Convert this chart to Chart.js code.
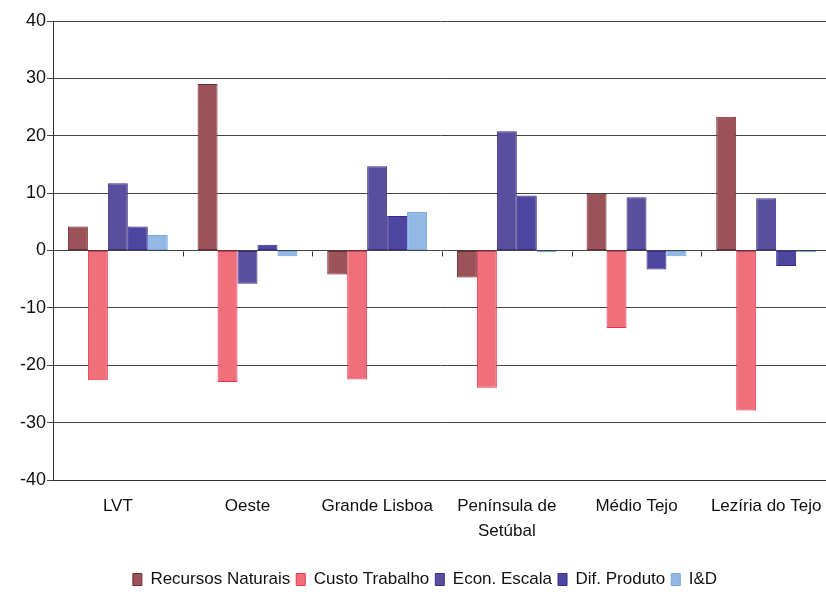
<!DOCTYPE html>
<html>
<head>
<meta charset="utf-8">
<script src="https://cdn.jsdelivr.net/npm/chart.js@4/dist/chart.umd.min.js"></script>
<style>
  html, body { margin: 0; padding: 0; background: #fff; }
  #wrap { width: 826px; height: 592px; }
</style>
</head>
<body>
<div id="wrap"><canvas id="chart"></canvas></div>
<script>
// Data
const categories = ["LVT", "Oeste", "Grande Lisboa", ["Península de", "Setúbal"], "Médio Tejo", "Lezíria do Tejo"];
const seriesNames = ["Recursos Naturais", "Custo Trabalho", "Econ. Escala", "Dif. Produto", "I&D"];
const recursosNaturais = [4.2, 29.0, -4.2, -4.7, 9.9, 23.3];
const custoTrabalho = [-22.6, -22.9, -22.5, -23.9, -13.5, -27.9];
const econEscala = [11.7, -5.8, 14.7, 20.8, 9.3, 9.1];
const difProduto = [4.2, 1.0, 6.0, 9.6, -3.3, -2.7];
const iD = [2.7, -1.0, 6.7, -0.3, -1.0, -0.3];
const yTicks = [40, 30, 20, 10, 0, -10, -20, -30, -40];

const FONT = "'Liberation Sans', Arial, sans-serif";
const fills = ["#9c5357", "#ef6f7b", "#5a4f9f", "#4d45a0", "#92b9e6"];
const borders = ["#6e2b33", "#e8334c", "#3b2d82", "#352c8c", "#7aa4dc"];
const seriesData = [recursosNaturais, custoTrabalho, econEscala, difProduto, iD];

// small tick marks on the zero line between categories
const zeroTicks = {
    id: "zeroTicks",
    afterDatasetsDraw(chart) {
        const { ctx, scales: { x, y } } = chart;
        const y0 = Math.round(y.getPixelForValue(0)) + 0.5;
        ctx.save();
        ctx.strokeStyle = "#333";
        ctx.lineWidth = 1;
        for (let i = 1; i < categories.length; i++) {
            const px = Math.round((x.getPixelForValue(i - 1) + x.getPixelForValue(i)) / 2) + 0.5;
            ctx.beginPath();
            ctx.moveTo(px, y0);
            ctx.lineTo(px, y0 + 5);
            ctx.stroke();
        }
        ctx.restore();
    }
};

// the original plot runs a few pixels past the right edge; the legend sits
// a little lower and to the right of where Chart.js would put it
const layoutNudge = {
    id: "layoutNudge",
    afterLayout(chart) {
        const x = chart.scales.x;
        x.right = 831;
        x.width = x.right - x.left;
        x.configure();
        chart.chartArea.right = 831;
        chart.chartArea.width = chart.chartArea.right - chart.chartArea.left;
        chart.legend.top += 6;
        chart.legend.bottom += 6;
        chart.legend.left += 12;
        chart.legend.right += 12;
    }
};

new Chart(document.getElementById("chart"), {
    type: "bar",
    data: {
        labels: categories,
        datasets: seriesNames.map((name, i) => ({
            label: name,
            data: seriesData[i],
            backgroundColor: fills[i],
            borderColor: borders[i],
            borderWidth: 1,
            borderSkipped: false
        }))
    },
    options: {
        responsive: true,
        maintainAspectRatio: false,
        animation: false,
        layout: { padding: { top: 21, right: 0, left: 0, bottom: 0 } },
        datasets: { bar: { categoryPercentage: 0.77, barPercentage: 1.0 } },
        plugins: {
            tooltip: { enabled: false },
            legend: {
                position: "bottom",
                labels: {
                    font: { family: FONT, size: 17 },
                    color: "#111",
                    boxWidth: 9,
                    boxHeight: 12,
                    padding: 6
                }
            }
        },
        scales: {
            x: {
                grid: { display: false, drawTicks: true, tickLength: 14 },
                border: { display: true, color: "#333" },
                ticks: {
                    font: { family: FONT, size: 17, lineHeight: 1.45 },
                    color: "#111",
                    padding: 0,
                    maxRotation: 0,
                    autoSkip: false
                },
                afterFit(scale) { scale.height = 79; }
            },
            y: {
                min: -40,
                max: 40,
                afterBuildTicks(scale) { scale.ticks = yTicks.map(v => ({ value: v })); },
                grid: { color: "#444", lineWidth: 1, tickLength: 6 },
                border: { display: true, color: "#333" },
                ticks: {
                    font: { family: FONT, size: 18 },
                    color: "#111",
                    padding: 1
                },
                afterFit(scale) { scale.width = 53; }
            }
        }
    },
    plugins: [zeroTicks, layoutNudge]
});
</script>
</body>
</html>
